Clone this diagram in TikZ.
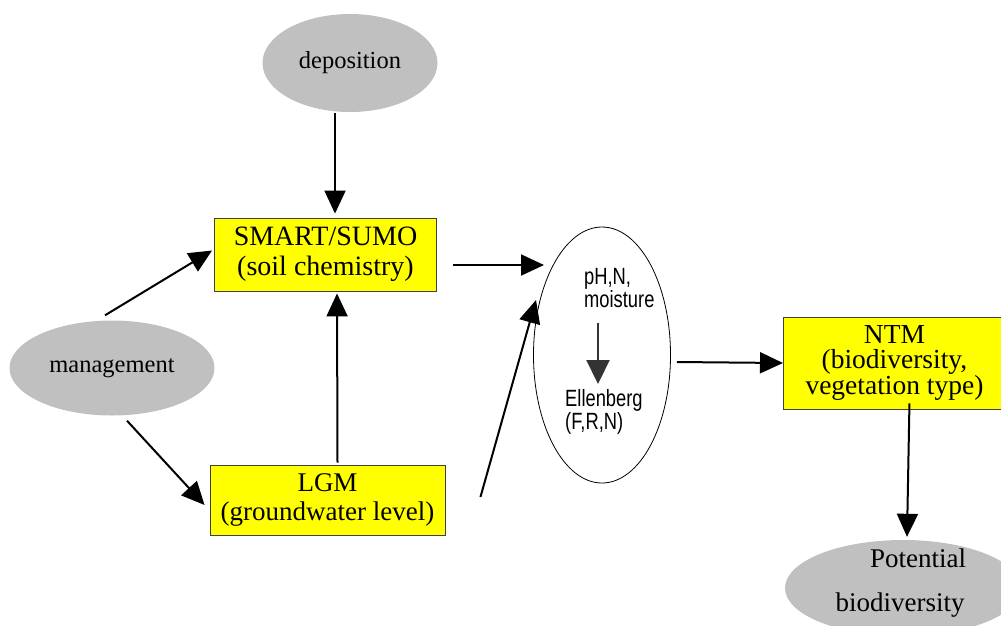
\documentclass[tikz,border=0pt]{standalone}
\usepackage{fontspec}
\setmainfont{Liberation Serif}
\newfontfamily\narrowsans[FakeStretch=0.78]{Liberation Sans}
\usetikzlibrary{arrows.meta,calc,shapes.geometric}
\definecolor{boxyellow}{HTML}{FFFF00}
\definecolor{ovalgray}{HTML}{C0C0C0}
\definecolor{darkarrow}{HTML}{333333}
\tikzset{
  model/.style={draw=black!75, line width=0.9pt, fill=boxyellow, align=center, inner sep=0pt},
  driver/.style={ellipse, fill=ovalgray, inner sep=0pt},
  flow/.style={line width=2pt, -{Triangle[length=23pt,width=21pt]}},
  innerflow/.style={line width=2.2pt, darkarrow, -{Triangle[length=24pt,width=23pt]}},
  sans/.style={font=\narrowsans\fontsize{23.5}{18.5}\selectfont, align=left, inner sep=0pt},
}
\begin{document}
\begin{tikzpicture}[x=1pt,y=-1pt]
\useasboundingbox (0,0) rectangle (1001,625);

% driving factors
\node[driver, minimum width=175, minimum height=98, font=\fontsize{24.5}{29}\selectfont] (dep) at (350,63) {deposition};
\node[driver, minimum width=205, minimum height=95, font=\fontsize{24.5}{29}\selectfont] (mgmt) at (112,368) {management};

% models
\node[model, minimum width=222, minimum height=73, font=\fontsize{28}{30}\selectfont] (smart) at (325.5,254.5) {SMART/SUMO\\(soil chemistry)};
\node[model, minimum width=235, minimum height=70, font=\fontsize{27}{29}\selectfont] (lgm) at (327.5,500) {LGM\\(groundwater level)};
\node[model, minimum width=222, minimum height=92, font=\fontsize{27.5}{25}\selectfont, anchor=west] (ntm) at (783,363) {NTM\\(biodiversity,\\vegetation type)};

% site conditions
\node[ellipse, draw=black, line width=0.8pt, minimum width=137, minimum height=256, inner sep=0pt] (ell) at (602,355) {};
\node[sans, anchor=north west] (moist) at (584,268) {pH,N,\\moisture};
\node[sans, anchor=north west] (ellen) at (565,389) {Ellenberg\\(F,R,N)};

% outcome
\node[driver, minimum width=236, minimum height=96] (pot) at (903,588) {};
\node[font=\fontsize{27}{30}\selectfont, inner sep=0pt] (potA) at (918,558) {Potential};
\node[font=\fontsize{27}{30}\selectfont, inner sep=0pt] (potB) at (900,605) {biodiversity};

% connectors
\draw[flow] ($(dep.south)+(-15,1)$) -- ($(smart.north)+(9.5,-4)$);
\draw[flow] ($(mgmt.north)+(-7,-5)$) -- ($(smart.west)+(-2,-4)$);
\draw[flow] ($(mgmt.south)+(15,5)$) -- ($(lgm.west)+(-5,5)$);
\draw[flow] ($(lgm.north)+(10,-2)$) -- ($(smart.south)+(11.5,2)$);
\draw[flow] ($(smart.east)+(16,10.5)$) -- ($(ell.center)+(-58,-90)$);
\draw[flow] ($(lgm.east)+(35,-3)$) -- ($(ell.center)+(-66,-55)$);
\draw[flow] ($(ell.east)+(6,7)$) -- (ntm.west);
\draw[flow] ($(ntm.south)+(15,-6)$) -- ($(pot.north)+(4,-3)$);
\draw[innerflow] ($(moist.south west)+(14,15)$) -- ($(ellen.north west)+(33,-5)$);
\end{tikzpicture}
\end{document}
